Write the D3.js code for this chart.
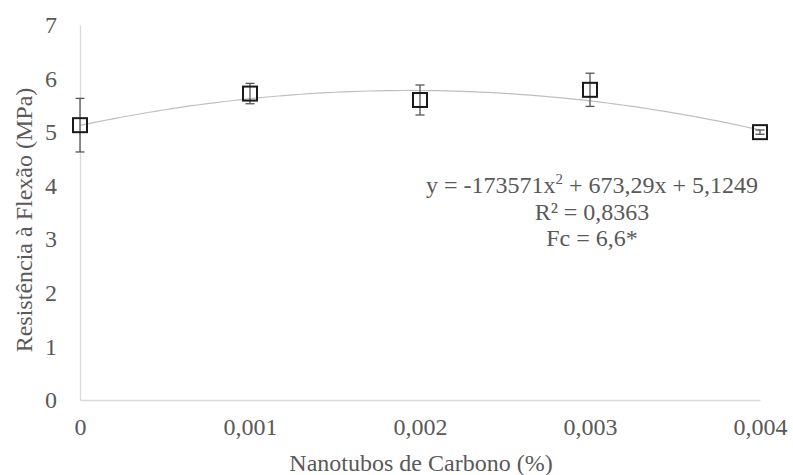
<!DOCTYPE html>
<html>
<head>
<meta charset="utf-8">
<script src="https://cdn.jsdelivr.net/npm/d3@7"></script>
</head>
<body style="margin:0; background:#fff">
<svg id="chart" width="793" height="475"></svg>
<script>
// data
const nanotubos = [0, 0.001, 0.002, 0.003, 0.004];
const resistencia = [5.13, 5.72, 5.60, 5.79, 5.00];
const erro = [0.5, 0.19, 0.28, 0.31, 0.04];
const yTicks = [0, 1, 2, 3, 4, 5, 6, 7];
const xTicks = [0, 0.001, 0.002, 0.003, 0.004];
const coef = { a: -173571, b: 673.29, c: 5.1249 };

const serif = "Liberation Serif";
const textColor = "#595959";
const fontSize = "24px";
const svg = d3.select("svg#chart");
const margin = { top: 25, right: 33, bottom: 75, left: 80 };
const width = +svg.attr("width");
const height = +svg.attr("height");
const chartWidth = width - margin.left - margin.right;
const chartHeight = height - margin.top - margin.bottom;

const g = svg.append("g").attr("transform", `translate(${margin.left},${margin.top})`);

const x = d3.scaleLinear([0, 0.004], [0, chartWidth]);
const y = d3.scaleLinear([0, 7], [chartHeight, 0]);

const fmt = (d) => (d === 0 ? "0" : d3.format(".3f")(d).replace(".", ","));

const styleTicks = (sel) => {
	sel.attr("font-family", null).attr("font-size", null);
	sel.selectAll("text")
		.style("font-family", serif)
		.style("font-size", fontSize)
		.attr("fill", textColor);
};

// axes
g.append("g")
	.attr("transform", `translate(0,${chartHeight})`)
	.call(d3.axisBottom(x).tickValues(xTicks).tickSize(0).tickPadding(18).tickFormat(fmt))
	.call((a) => a.select(".domain").attr("stroke", "#d9d9d9").attr("stroke-width", 1.3))
	.call(styleTicks);

g.append("g")
	.call(d3.axisLeft(y).tickValues(yTicks).tickSize(0).tickPadding(23).tickFormat(d3.format("d")))
	.call((a) => a.select(".domain").attr("stroke", "#d9d9d9").attr("stroke-width", 1.3))
	.call(styleTicks);

// trend line
const curve = d3.range(0, 0.0040001, 0.00005).map((v) => [v, coef.a * v * v + coef.b * v + coef.c]);
g.append("path")
	.datum(curve)
	.attr("fill", "none")
	.attr("stroke", "#bfbfbf")
	.attr("stroke-width", 1.2)
	.attr("d", d3.line().x((d) => x(d[0])).y((d) => y(d[1])));

// error bars
const pts = nanotubos.map((v, i) => ({ x: v, y: resistencia[i], e: erro[i] }));
const eb = g.selectAll("g.err").data(pts).join("g").attr("class", "err")
	.attr("stroke", "#555").attr("stroke-width", 1.3);
eb.append("line")
	.attr("x1", (d) => x(d.x)).attr("x2", (d) => x(d.x))
	.attr("y1", (d) => y(d.y + d.e)).attr("y2", (d) => y(d.y - d.e));
eb.append("line")
	.attr("x1", (d) => x(d.x) - 4.5).attr("x2", (d) => x(d.x) + 4.5)
	.attr("y1", (d) => y(d.y + d.e)).attr("y2", (d) => y(d.y + d.e));
eb.append("line")
	.attr("x1", (d) => x(d.x) - 4.5).attr("x2", (d) => x(d.x) + 4.5)
	.attr("y1", (d) => y(d.y - d.e)).attr("y2", (d) => y(d.y - d.e));

// markers
g.selectAll("rect.pt").data(pts).join("rect").attr("class", "pt")
	.attr("x", (d) => x(d.x) - 7).attr("y", (d) => y(d.y) - 7)
	.attr("width", 14).attr("height", 14)
	.attr("fill", "none").attr("stroke", "#1a1a1a").attr("stroke-width", 2);

// equation
const eq = svg.append("text")
	.attr("text-anchor", "middle")
	.attr("fill", textColor)
	.style("font-family", serif)
	.style("font-size", fontSize);
const l1 = eq.append("tspan").attr("x", 592).attr("y", 193);
l1.append("tspan").text("y = -173571x");
l1.append("tspan").attr("dy", -9).style("font-size", "15px").text("2");
l1.append("tspan").attr("dy", 9).text(" + 673,29x + 5,1249");
eq.append("tspan").attr("x", 592).attr("y", 220).text("R² = 0,8363");
eq.append("tspan").attr("x", 592).attr("y", 246).text("Fc = 6,6*");

// axis titles
svg.append("text")
	.attr("text-anchor", "middle")
	.attr("fill", textColor)
	.attr("transform", "translate(32,220) rotate(-90)")
	.style("font-family", serif)
	.style("font-size", fontSize)
	.text("Resistência à Flexão (MPa)");

svg.append("text")
	.attr("text-anchor", "middle")
	.attr("fill", textColor)
	.attr("x", 421)
	.attr("y", 471)
	.style("font-family", serif)
	.style("font-size", fontSize)
	.text("Nanotubos de Carbono (%)");
</script>
</body>
</html>
